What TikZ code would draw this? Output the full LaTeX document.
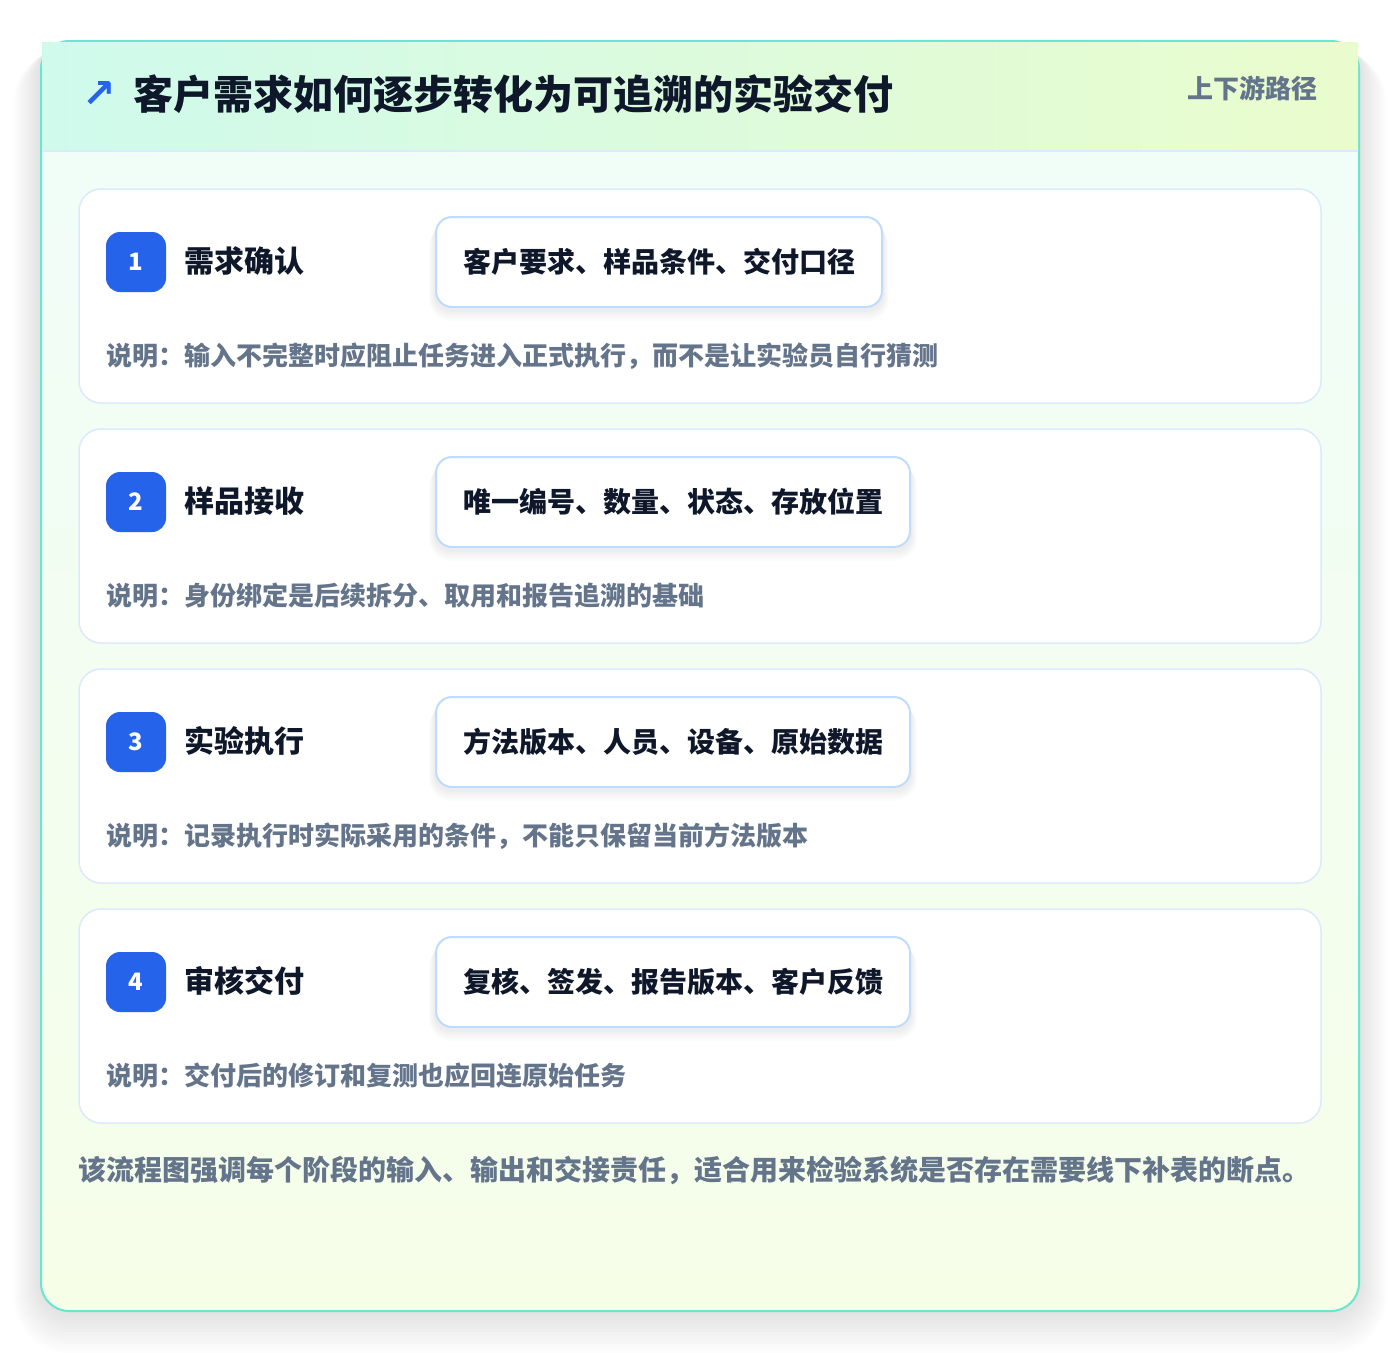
\documentclass[tikz,border=0pt]{standalone}
\usepackage{fontspec}
\setmainfont{Noto Sans CJK SC}
\newfontfamily\arrowfont{DejaVu Sans}
\definecolor{tealb}{HTML}{67E6D2}
\definecolor{hdl}{HTML}{CFFAEC}
\definecolor{hdr}{HTML}{EAFCCD}
\definecolor{bodytop}{HTML}{F0FDF9}
\definecolor{bodybot}{HTML}{F6FEE8}
\definecolor{cardline}{HTML}{DBEAFE}
\definecolor{pillline}{HTML}{BFDBFE}
\definecolor{accent}{HTML}{2563EB}
\definecolor{ink}{HTML}{0F172A}
\definecolor{muted}{HTML}{64748B}
\tikzset{
  panel/.style={draw=tealb, line width=2pt, rounded corners=28pt, top color=bodytop, bottom color=bodybot,
    minimum width=1318pt, minimum height=1270pt, inner sep=0pt},
  card/.style={draw=cardline, line width=1.5pt, fill=white, rounded corners=22pt,
    minimum width=1242pt, minimum height=214pt, inner sep=0pt},
  badge/.style={fill=accent, rounded corners=14pt, minimum size=60pt, inner sep=0pt, text=white,
    font=\fontsize{24}{28}\selectfont\bfseries},
  steptitle/.style={anchor=west, inner sep=0pt, text=ink, font=\fontsize{30}{36}\selectfont\bfseries},
  pill/.style={anchor=west, draw=pillline, line width=2pt, fill=white, rounded corners=16pt,
    minimum height=90pt, inner xsep=27pt, inner ysep=0pt, text=ink, font=\fontsize{28}{34}\selectfont\bfseries},
  note/.style={anchor=west, inner sep=0pt, text=muted, font=\fontsize{26}{32}\selectfont\bfseries},
  softshade/.style={fill=black, fill opacity=#1},
}
\begin{document}
\begin{tikzpicture}[x=1pt,y=-1pt]
\useasboundingbox[fill=white] (0,0) rectangle (1400,1352);
% soft shadow of the panel
\foreach \k in {1,...,14}{
  \fill[softshade=0.008, rounded corners={28+2*\k}] ({41-2*\k},{41+0.6*\k}) rectangle ({1359+2*\k},{1311+3*\k});
}
\node[panel] (panel) at (700,676) {};
\shade[left color=hdl, right color=hdr] (42,42) rectangle (1358,151);
\draw[cardline, line width=1.5pt] (42,151) -- (1358,151);
\node[anchor=center, inner sep=0pt, text=accent, font=\arrowfont\fontsize{40}{46}\selectfont\bfseries] (arrow) at (99,94) {↗};
\node[anchor=west, inner sep=0pt, text=ink, font=\fontsize{40}{48}\selectfont\bfseries] (title) at (133,94) {客户需求如何逐步转化为可追溯的实验交付};
\node[anchor=east, inner sep=0pt, text=muted, font=\fontsize{26}{32}\selectfont\bfseries] (tag) at (1318,88) {上下游路径};
\foreach \i/\t/\p/\n in {
  1/{需求确认}/{客户要求、样品条件、交付口径}/{说明：输入不完整时应阻止任务进入正式执行，而不是让实验员自行猜测},
  2/{样品接收}/{唯一编号、数量、状态、存放位置}/{说明：身份绑定是后续拆分、取用和报告追溯的基础},
  3/{实验执行}/{方法版本、人员、设备、原始数据}/{说明：记录执行时实际采用的条件，不能只保留当前方法版本},
  4/{审核交付}/{复核、签发、报告版本、客户反馈}/{说明：交付后的修订和复测也应回连原始任务}}{
  \pgfmathsetmacro{\dy}{240*(\i-1)}
  \node[card] (card\i) at (700,296+\dy) {};
  \node[badge] (badge\i) at (136,262+\dy) {\i};
  \node[steptitle] (title\i) at (184,261+\dy) {\t};
  \node[pill, opacity=0] (ghost\i) at (435,262+\dy) {\p};
  \foreach \k in {1,...,6}{
    \fill[softshade=0.012, rounded corners={16+\k}] ([xshift={-\k*1pt}, yshift={-(2+\k*1.2)*1pt}]ghost\i.north west) rectangle ([xshift={\k*1pt}, yshift={-(2+\k*1.8)*1pt}]ghost\i.south east);
  }
  \node[pill] (pill\i) at (435,262+\dy) {\p};
  \node[note] (note\i) at (106,356+\dy) {\n};
}
\node[anchor=west, inner sep=0pt, text=muted, font=\fontsize{28}{34}\selectfont\bfseries] (footer) at (78,1170) {该流程图强调每个阶段的输入、输出和交接责任，适合用来检验系统是否存在需要线下补表的断点。};
\end{tikzpicture}
\end{document}
